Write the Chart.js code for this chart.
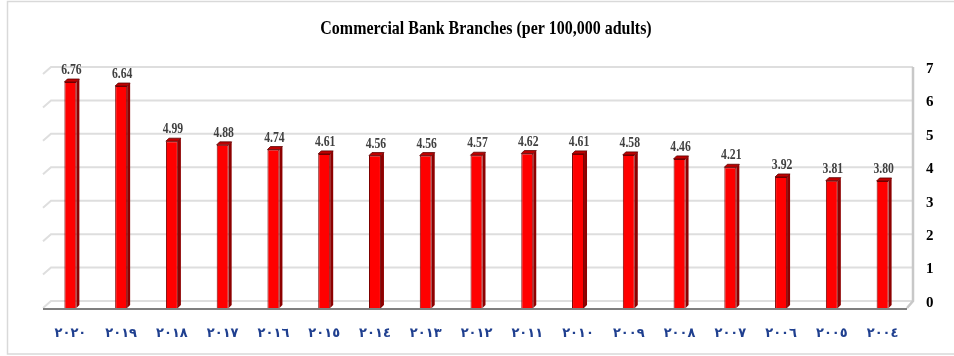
<!DOCTYPE html>
<html>
<head>
<meta charset="utf-8">
<script src="https://cdn.jsdelivr.net/npm/chart.js@4.4.0/dist/chart.umd.min.js"></script>
<style>
    html, body { margin: 0; padding: 0; background: #fff; }
    #wrap { width: 954px; height: 356px; }
</style>
</head>
<body>
<div id="wrap"><canvas id="branchChart" width="954" height="356"></canvas></div>
<script>
// 年份 (阿拉伯數字) 與每十萬成人商業銀行分行數
const years = ['٢٠٢٠', '٢٠١٩', '٢٠١٨', '٢٠١٧', '٢٠١٦', '٢٠١٥', '٢٠١٤', '٢٠١٣', '٢٠١٢',
    '٢٠١١', '٢٠١٠', '٢٠٠٩', '٢٠٠٨', '٢٠٠٧', '٢٠٠٦', '٢٠٠٥', '٢٠٠٤'];
const branches = [6.76, 6.64, 4.99, 4.88, 4.74, 4.61, 4.56, 4.56, 4.57,
    4.62, 4.61, 4.58, 4.46, 4.21, 3.92, 3.81, 3.80];
const yTicks = [0, 1, 2, 3, 4, 5, 6, 7];
const chartTitle = 'Commercial Bank Branches (per 100,000 adults)';

const depth = 7; // 立體牆面深度

// 壓縮字寬畫文字
function narrowText(ctx, text, x, y, scaleX) {
    ctx.save();
    ctx.translate(x, y);
    ctx.scale(scaleX, 1);
    ctx.fillText(text, 0, 0);
    ctx.restore();
}

// 外框、背景牆與格線
const wallPlugin = {
    id: 'wall',
    beforeDatasetsDraw(chart) {
        const { ctx, chartArea } = chart;
        const yScale = chart.scales.y;
        const left = chartArea.left - 2;
        const backRight = chartArea.right + 5;
        ctx.save();
        // 外框
        ctx.strokeStyle = '#d9d9d9';
        ctx.lineWidth = 1.5;
        ctx.beginPath();
        ctx.moveTo(960, 1.5);
        ctx.lineTo(7.5, 1.5);
        ctx.lineTo(7.5, 354);
        ctx.lineTo(960, 354);
        ctx.stroke();

        // 格線
        ctx.strokeStyle = '#dedede';
        ctx.lineWidth = 2;
        yTicks.forEach(v => {
            const y = yScale.getPixelForValue(v);
            ctx.beginPath();
            ctx.moveTo(left, y);
            ctx.lineTo(left + depth + 1, y - depth);
            ctx.lineTo(backRight, y - depth);
            ctx.stroke();
        });
        // 右側牆邊
        ctx.strokeStyle = '#c8c8c8';
        ctx.lineWidth = 2.5;
        ctx.beginPath();
        ctx.moveTo(backRight, yScale.getPixelForValue(7) - depth);
        ctx.lineTo(backRight, yScale.getPixelForValue(0) - depth);
        ctx.lineTo(backRight - depth + 1, yScale.getPixelForValue(0));
        ctx.stroke();
        // 底部橫軸
        const y0 = yScale.getPixelForValue(0) + 1;
        ctx.strokeStyle = '#7f7f7f';
        ctx.lineWidth = 2;
        ctx.beginPath();
        ctx.moveTo(left, y0);
        ctx.lineTo(chartArea.right - 1, y0);
        ctx.stroke();
        ctx.restore();
    }
};

// 柱子側面、頂面與數值標籤
const barPlugin = {
    id: 'bar3d',
    afterDatasetsDraw(chart) {
        const { ctx } = chart;
        const meta = chart.getDatasetMeta(0);
        const d = 3;
        ctx.save();
        meta.data.forEach((bar, i) => {
            const { x, y, base, width } = bar.getProps(['x', 'y', 'base', 'width'], true);
            const l = x - width / 2;
            const r = x + width / 2;
            // 側面
            ctx.fillStyle = '#8e0000';
            ctx.beginPath();
            ctx.moveTo(r, y);
            ctx.lineTo(r + d, y - d);
            ctx.lineTo(r + d, base - d);
            ctx.lineTo(r, base);
            ctx.closePath();
            ctx.fill();
            // 頂面
            ctx.fillStyle = '#c00000';
            ctx.beginPath();
            ctx.moveTo(l, y);
            ctx.lineTo(l + d, y - d);
            ctx.lineTo(r + d, y - d);
            ctx.lineTo(r, y);
            ctx.closePath();
            ctx.fill();
            ctx.strokeStyle = '#5a0000';
            ctx.lineWidth = 0.8;
            ctx.stroke();

            // 數值
            ctx.fillStyle = '#404040';
            ctx.font = 'bold 15px "Liberation Serif"';
            ctx.textAlign = 'center';
            ctx.textBaseline = 'alphabetic';
            narrowText(ctx, branches[i].toFixed(2), x + 1, y - 8, 0.78);
        });

        // 標題
        ctx.fillStyle = '#000';
        ctx.font = 'bold 19px "Liberation Serif"';
        ctx.textAlign = 'center';
        ctx.textBaseline = 'middle';
        narrowText(ctx, chartTitle, 486, 29, 0.84);
        ctx.restore();
    }
};

new Chart(document.getElementById('branchChart'), {
    type: 'bar',
    data: {
        labels: years,
        datasets: [{
            data: branches,
            backgroundColor: '#ff0000',
            borderColor: '#7a0000',
            borderWidth: 1,
            barPercentage: 0.236,
            categoryPercentage: 1
        }]
    },
    options: {
        responsive: false,
        animation: false,
        layout: { padding: { left: 45, top: 74, right: 0, bottom: 0 } },
        plugins: {
            legend: { display: false },
            title: { display: false },
            tooltip: { enabled: false }
        },
        scales: {
            x: {
                grid: { display: false },
                border: { display: false },
                ticks: {
                    color: '#1f3f8f',
                    font: { family: 'DejaVu Sans', weight: 'bold', size: 13 },
                    padding: 10,
                    maxRotation: 0
                },
                afterFit(scale) { scale.height = 48; }
            },
            y: {
                position: 'right',
                min: 0,
                max: 7,
                grid: { display: false },
                border: { display: false },
                ticks: {
                    stepSize: 1,
                    color: '#000',
                    font: { family: 'Liberation Serif', weight: 'bold', size: 15 },
                    padding: 10,
                    labelOffset: -5
                },
                afterFit(scale) { scale.width = 46; }
            }
        }
    },
    plugins: [wallPlugin, barPlugin]
});
</script>
</body>
</html>
